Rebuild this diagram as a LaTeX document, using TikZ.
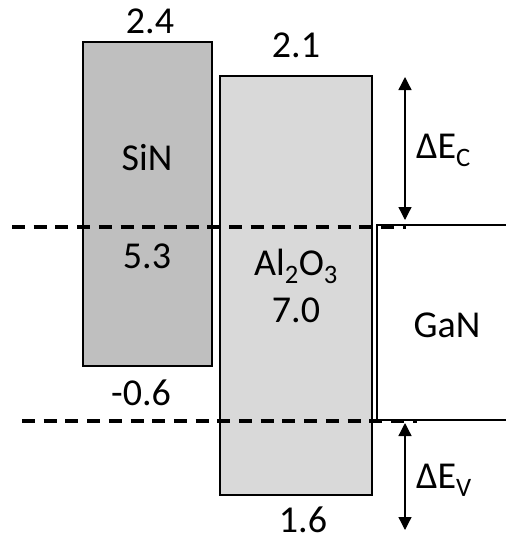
\documentclass[tikz,border=0pt]{standalone}
\usepackage{fontspec}
\setmainfont{Carlito}
\usetikzlibrary{arrows.meta}
\definecolor{sinfill}{HTML}{BFBFBF}
\definecolor{alfill}{HTML}{D9D9D9}
\begin{document}
\begin{tikzpicture}[x=1pt,y=-1pt,
  lbl/.style={inner sep=0pt,anchor=base,font=\fontsize{38}{46}\selectfont},
  boxline/.style={line width=1.8pt},
  level/.style={line width=2pt},
  dashline/.style={line width=3.5pt,dash pattern=on 13pt off 8.7pt},
  darrow/.style={line width=1.3pt,{Triangle[width=13pt,length=13pt]}-{Triangle[width=13pt,length=13pt]}}]
\useasboundingbox (0,0) rectangle (506,541);
% boxes
\draw[boxline,fill=sinfill] (83,42) rectangle (212,366);
\draw[boxline,fill=alfill] (220,76) rectangle (372,495);
% GaN band edges
\draw[level] (506,225) -- (377,225) -- (377,420) -- (506,420);
% dashed reference lines
\coordinate (dtL) at (12,227);
\coordinate (dtR) at (406,227);
\coordinate (dbL) at (22,421);
\coordinate (dbR) at (417,421);
\draw[dashline] (dtL) -- (dtR);
\draw[dashline] (dbL) -- (dbR);
% arrows
\coordinate (ecT) at (405,77);
\coordinate (ecB) at (405,220);
\coordinate (evT) at (405,423);
\coordinate (evB) at (405,530);
\draw[darrow] (ecT) -- (ecB);
\draw[darrow] (evT) -- (evB);
% labels
\node[lbl] (t24) at (150,33) {2.4};
\node[lbl] (t21) at (296,57) {2.1};
\node[lbl] (tsin) at (147,170) {SiN};
\node[lbl] (t53) at (147,268) {5.3};
\node[lbl] (tal) at (296,275) {Al\textsubscript{2}O\textsubscript{3}};
\node[lbl] (t70) at (296,322) {7.0};
\node[lbl] (tgan) at (447,337) {GaN};
\node[lbl] (tm06) at (141,405) {-0.6};
\node[lbl] (t16) at (303,532) {1.6};
\node[lbl,anchor=base west] (tec) at (416,158) {ΔE\textsubscript{C}};
\node[lbl,anchor=base west] (tev) at (416,488) {ΔE\textsubscript{V}};
\end{tikzpicture}
\end{document}
